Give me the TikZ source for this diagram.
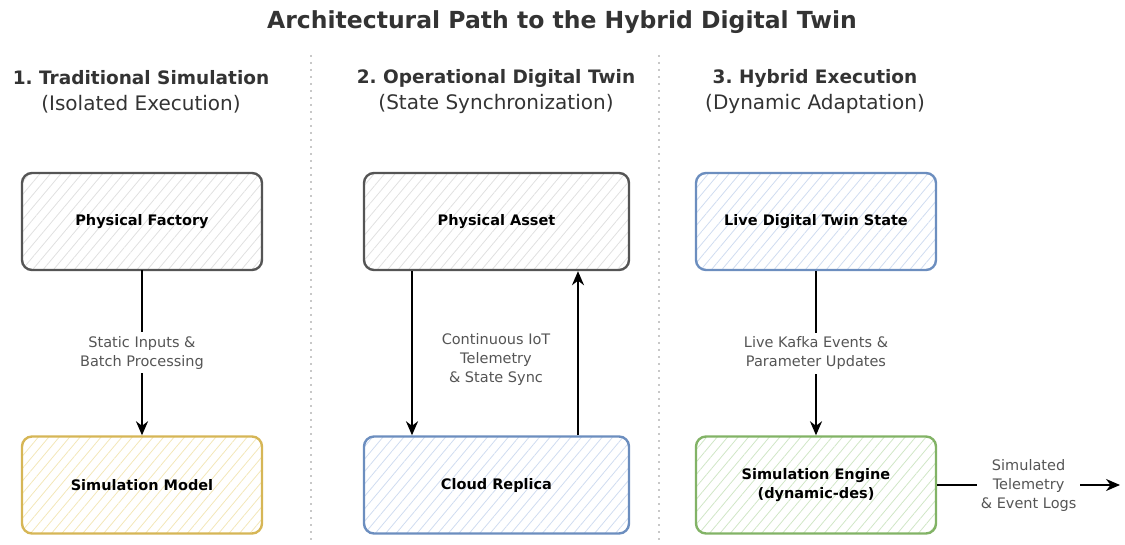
\documentclass[tikz,border=0pt]{standalone}
\usepackage{fontspec}
\setmainfont{DejaVu Sans}
\frenchspacing
\usepackage{tikz}
\usetikzlibrary{arrows.meta, patterns.meta, positioning}
\definecolor{ink}{HTML}{333333}
\definecolor{note}{HTML}{555555}
\definecolor{sepgray}{HTML}{C8C8C8}
\definecolor{grayline}{HTML}{555555}
\definecolor{grayhatch}{HTML}{E0E0E0}
\definecolor{yellowline}{HTML}{D6B656}
\definecolor{yellowhatch}{HTML}{F3E7B8}
\definecolor{blueline}{HTML}{6C8EBF}
\definecolor{bluehatch}{HTML}{CFDCF0}
\definecolor{greenline}{HTML}{82B366}
\definecolor{greenhatch}{HTML}{D0E6C6}
\tikzset{
    stagebox/.style={draw=#1line, line width=2.4pt, rounded corners=10pt,
        pattern={Lines[angle=50,distance=8pt,line width=0.8pt]}, pattern color=#1hatch,
        font=\fontsize{14.5}{19}\selectfont\bfseries, text=black, align=center},
    flow/.style={-{Stealth[length=14pt,width=12pt]}, line width=2.2pt},
    flowlabel/.style={font=\fontsize{14.5}{19}\selectfont, text=note, align=center, fill=white, inner sep=4pt},
    colhead/.style={font=\fontsize{18.5}{26}\selectfont\bfseries, text=ink, align=center},
    colsub/.style={font=\fontsize{20}{24}\selectfont, text=ink, align=center}
}
\begin{document}
\begin{tikzpicture}[x=1pt, y=-1pt]
    \useasboundingbox (0,0) rectangle (1125,545);

    % Title
    \node[font=\fontsize{23.5}{28}\selectfont\bfseries, text=ink] (title) at (562,22) {Architectural Path to the Hybrid Digital Twin};

    % Column separators
    \foreach \x in {311, 659} {
        \draw[sepgray, line width=1.8pt, dash pattern=on 2pt off 5pt] (\x,55) -- (\x,540);
    }

    % Column headings
    \foreach \x/\name/\head/\sub in {141/headA/1. Traditional Simulation/(Isolated Execution),
                                     496/headB/2. Operational Digital Twin/(State Synchronization),
                                     815/headC/3. Hybrid Execution/(Dynamic Adaptation)} {
        \node[colhead] (\name) at (\x,78) {\head};
        \node[colsub] (\name sub) at (\x,104) {\sub};
    }

    % 1. Traditional simulation
    \node[stagebox=gray, minimum width=240pt, minimum height=97pt] (factory) at (142,221.5) {Physical Factory};
    \node[stagebox=yellow, minimum width=240pt, minimum height=97pt] (model) at (142,485) {Simulation Model};
    \draw[flow] (factory) -- node[flowlabel] {Static Inputs \&\\Batch Processing} (model);

    % 2. Operational digital twin
    \node[stagebox=gray, minimum width=265pt, minimum height=97pt] (asset) at (496.5,221.5) {Physical Asset};
    \node[stagebox=blue, minimum width=265pt, minimum height=97pt] (replica) at (496.5,485) {Cloud Replica};
    \draw[flow] ([xshift=-84.5pt]asset.south) -- ([xshift=-84.5pt]replica.north);
    \draw[flow] ([xshift=81.5pt]replica.north) -- ([xshift=81.5pt]asset.south);
    \node[flowlabel] (sync) at (496,359) {Continuous IoT\\Telemetry\\\& State Sync};

    % 3. Hybrid execution
    \node[stagebox=blue, minimum width=240pt, minimum height=97pt] (live) at (816,221.5) {Live Digital Twin State};
    \node[stagebox=green, minimum width=240pt, minimum height=97pt] (engine) at (816,485) {Simulation Engine\\(dynamic-des)};
    \draw[flow] (live) -- node[flowlabel] {Live Kafka Events \&\\Parameter Updates} (engine);

    % Output of the engine
    \coordinate (out) at (1120,485);
    \draw[flow] (engine.east) -- node[flowlabel] {Simulated\\Telemetry\\\& Event Logs} (out);
\end{tikzpicture}
\end{document}
